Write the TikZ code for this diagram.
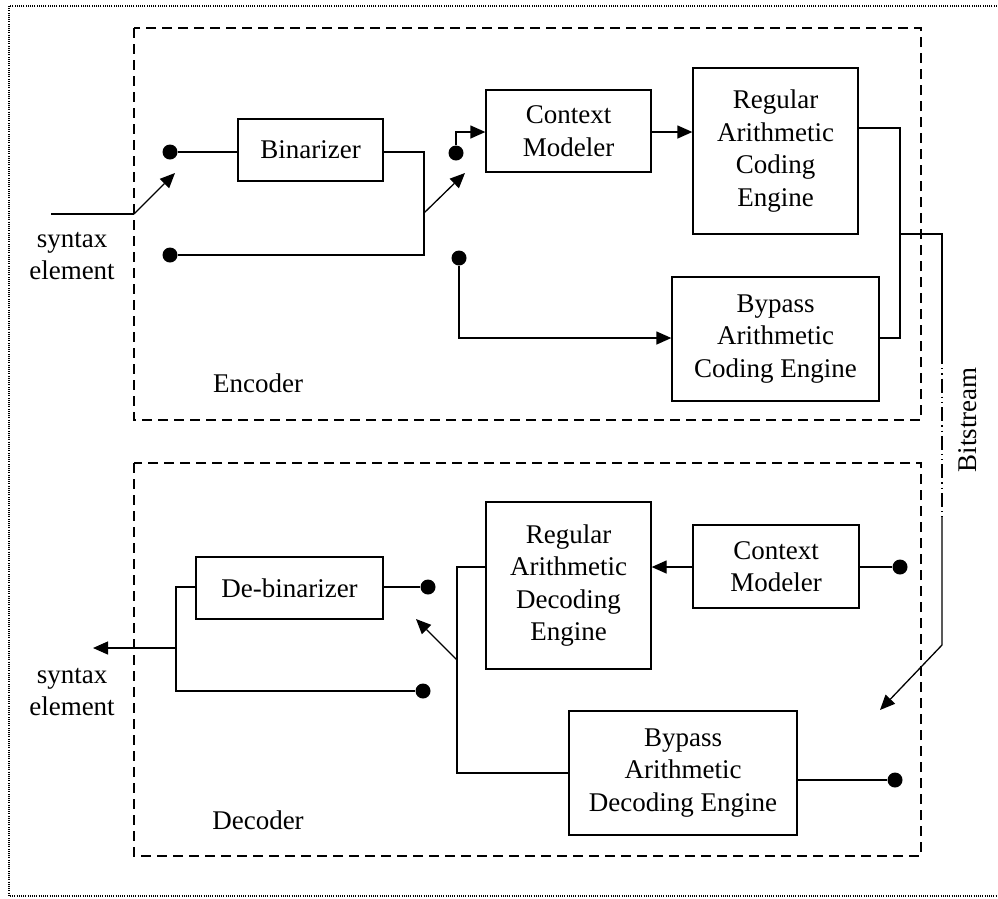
\documentclass[tikz,border=0pt]{standalone}
\usepackage{fontspec}
\setmainfont{Liberation Serif}
\usetikzlibrary{arrows.meta}
\begin{document}
\begin{tikzpicture}[x=1pt,y=-1pt,
  every node/.style={font=\fontsize{27}{32.5}\selectfont},
  blk/.style={draw,line width=1.3pt,inner sep=0pt,align=center},
  wire/.style={line width=1.3pt},
  arr/.style={line width=1.3pt,-{Triangle[length=15pt,width=13pt]}},
  dot/.style={circle,fill=black,inner sep=0pt,minimum size=15pt},
  grp/.style={line width=1.3pt,dash pattern=on 10pt off 6pt},
  lbl/.style={inner sep=0pt,align=center}]
\path[use as bounding box,clip] (0,0) rectangle (998,898);
% outer dotted frame
\draw[line width=1.2pt,dash pattern=on 1pt off 1.2pt] (1010,6) -- (9,6) -- (9,896) -- (1010,896);
% group boxes
\draw[grp] (134,28) rectangle (921,420);
\draw[grp] (134,463) rectangle (921,856);
\node[lbl] (enclbl) at (258,383) {Encoder};
\node[lbl] (declbl) at (258,820) {Decoder};
\node[lbl,rotate=90] (bits) at (968,420) {Bitstream};
% ---------- encoder ----------
\node[blk,minimum width=145pt,minimum height=62pt] (bin) at (310.5,150) {Binarizer};
\node[blk,minimum width=165pt,minimum height=82pt] (cmE) at (568.5,131) {Context\\Modeler};
\node[blk,minimum width=165pt,minimum height=166pt] (regE) at (775.5,151) {Regular\\Arithmetic\\Coding\\Engine};
\node[blk,minimum width=207pt,minimum height=124pt] (bypE) at (775.5,339) {Bypass\\Arithmetic\\Coding Engine};
\node[lbl] (synE) at (72,256) {syntax\\element};
\node[dot] (d1) at (170,152) {};
\node[dot] (d2) at (170,255) {};
\node[dot] (d3) at (456,153) {};
\node[dot] (d4) at (459,258) {};
\coordinate (inL) at (51,214);
\coordinate (inP) at (134,214);
\coordinate (swA) at (175,173);
\coordinate (jB) at (424,213);
\coordinate (swB) at (465,173);
\draw[wire] (inL) -- (inP);
\draw[arr] (inP) -- (swA);
\draw[wire] (d1) -- (d1 -| bin.west);
\draw[wire] (bin.east |- 0,152) -- (424,152) -- (424,255) -- (d2);
\draw[arr] (jB) -- (swB);
\draw[arr] (d3) -- (456,132) -- (cmE.west |- 0,132);
\draw[arr] (cmE.east |- 0,132) -- (regE.west |- 0,132);
\draw[arr] (d4) -- (459,338) -- (bypE.west |- 0,338);
\draw[wire] (regE.east |- 0,128) -- (900,128) -- (900,338) -- (bypE.east |- 0,338);
\coordinate (bs1) at (942,350);
\coordinate (bs2) at (942,517);
\coordinate (bs3) at (942,645);
\coordinate (bsT) at (880,710);
\draw[wire] (900,234) -- (942,234) -- (bs1);
\draw[line width=1.3pt,dash pattern=on 14pt off 4pt on 1.3pt off 4pt on 1.3pt off 4pt] (bs1) -- (bs2);
\draw[arr] (bs2) -- (bs3) -- (bsT);
% ---------- decoder ----------
\node[blk,minimum width=165pt,minimum height=167pt] (regD) at (568.5,585.5) {Regular\\Arithmetic\\Decoding\\Engine};
\node[blk,minimum width=166pt,minimum height=83pt] (cmD) at (776,566.5) {Context\\Modeler};
\node[blk,minimum width=228pt,minimum height=124pt] (bypD) at (683,773) {Bypass\\Arithmetic\\Decoding Engine};
\node[blk,minimum width=187pt,minimum height=62pt] (debin) at (289.5,588) {De-binarizer};
\node[lbl] (synD) at (72,692) {syntax\\element};
\node[dot] (d5) at (900,567) {};
\node[dot] (d6) at (428,587) {};
\node[dot] (d7) at (423,691) {};
\node[dot] (d8) at (895,780) {};
\coordinate (jD) at (457,660);
\coordinate (swD) at (416,619);
\coordinate (outT) at (93,648);
\draw[wire] (cmD.east |- d5) -- (d5);
\draw[arr] (cmD.west |- 0,567) -- (regD.east |- 0,567);
\draw[wire] (regD.west |- 0,567) -- (457,567) -- (457,773) -- (bypD.west |- 0,773);
\draw[arr] (jD) -- (swD);
\draw[wire] (debin.east |- d6) -- (d6);
\draw[wire] (debin.west |- 0,587) -- (176,587) -- (176,691) -- (d7);
\draw[arr] (176,648) -- (outT);
\draw[wire] (bypD.east |- d8) -- (d8);
\end{tikzpicture}
\end{document}
